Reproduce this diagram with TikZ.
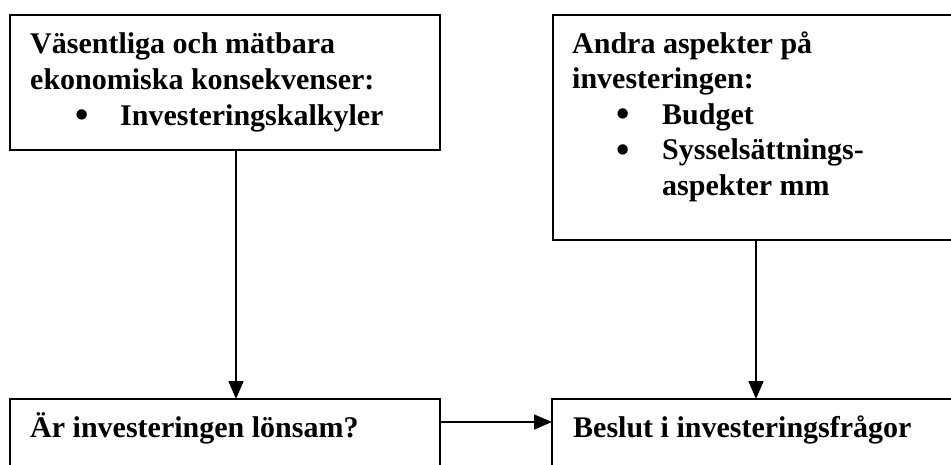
\documentclass[tikz,border=0pt]{standalone}
\usepackage{fontspec}
\setmainfont{Liberation Serif}
\usetikzlibrary{arrows.meta}
\begin{document}
\begin{tikzpicture}[x=1pt,y=-1pt,
  box/.style={draw,line width=1.6pt,rectangle,inner sep=0pt,outer sep=0pt},
  txt/.style={anchor=base west,inner sep=0pt,font=\fontsize{30}{36}\selectfont\bfseries},
  dot/.style={anchor=base west,inner sep=0pt,font=\fontsize{38}{38}\selectfont\bfseries},
  arr/.style={line width=1.6pt,-{Triangle[length=18pt,width=15pt]}}]
\useasboundingbox (0,0) rectangle (951,464);
% boxes
\node[box,minimum width=430pt,minimum height=135pt] (b1) at (225,82.5) {};
\node[box,minimum width=407pt,minimum height=225pt] (b2) at (756.5,127.5) {};
\node[box,minimum width=430pt,minimum height=90pt] (b3) at (225,444) {};
\node[box,minimum width=408pt,minimum height=90pt] (b4) at (756,444) {};
% texts
\node[txt] (t1a) at (30,53) {Väsentliga och mätbara};
\node[txt] (t1b) at (30,89) {ekonomiska konsekvenser:};
\node[dot] (t1c) at (75.5,127.5) {\smash{•}};
\node[txt] (t1d) at (120,125) {Investeringskalkyler};
\node[txt] (t2a) at (572,53) {Andra aspekter på};
\node[txt] (t2b) at (572,88) {investeringen:};
\node[dot] (t2c) at (616.5,126.5) {\smash{•}};
\node[txt] (t2d) at (662,124) {Budget};
\node[dot] (t2e) at (616.5,162) {\smash{•}};
\node[txt] (t2f) at (662,159.5) {Sysselsättnings-};
\node[txt] (t2g) at (662,195) {aspekter mm};
\node[txt] (t3) at (30,437) {Är investeringen lönsam?};
\node[txt] (t4) at (573,437) {Beslut i investeringsfrågor};
% connectors
\coordinate (a1) at (236,0);
\coordinate (a2) at (756,0);
\coordinate (a3) at (0,422);
\draw[arr] (b1.south -| a1) -- (b3.north -| a1);
\draw[arr] (b2.south -| a2) -- (b4.north -| a2);
\draw[arr] (b3.east |- a3) -- (b4.west |- a3);
\end{tikzpicture}
\end{document}
